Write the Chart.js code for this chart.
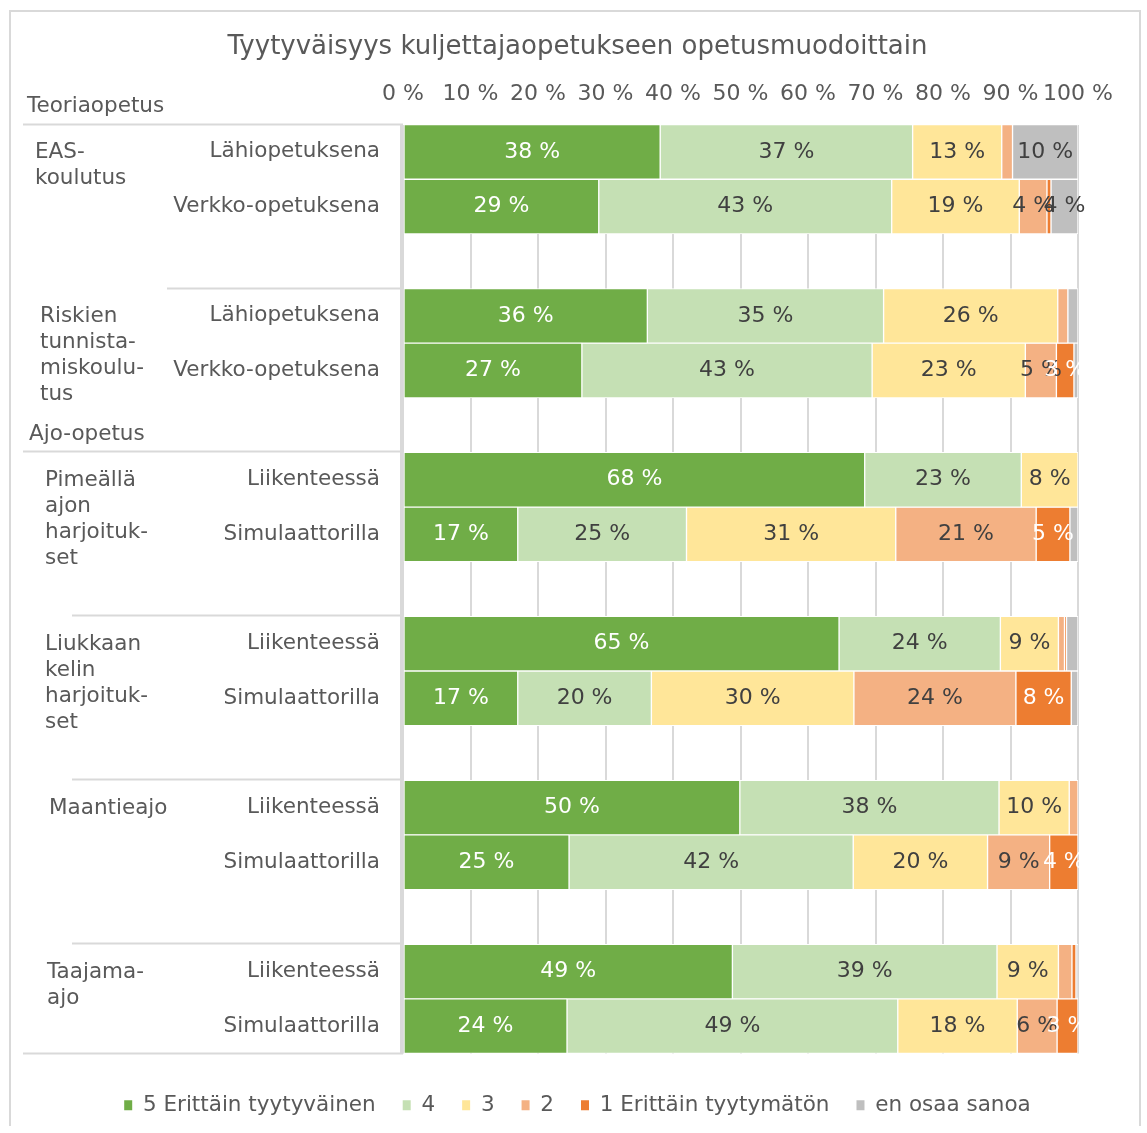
<!DOCTYPE html>
<html lang="fi">
<head>
<meta charset="utf-8">
<title>Tyytyväisyys kuljettajaopetukseen opetusmuodoittain</title>
<script src="https://cdn.jsdelivr.net/npm/chart.js@4.4.0/dist/chart.umd.min.js"></script>
<style>
  html, body { margin: 0; padding: 0; background: #fff; overflow: hidden; }
  #wrap { position: relative; width: 1147px; height: 1126px; }
</style>
</head>
<body>
<div id="wrap"><canvas id="satisfactionChart"></canvas></div>
<script>
// rows of the chart, top to bottom; empty strings are spacer rows between groups
const rowLabels = [
  "Lähiopetuksena", "Verkko-opetuksena", "",
  "Lähiopetuksena", "Verkko-opetuksena", "",
  "Liikenteessä", "Simulaattorilla", "",
  "Liikenteessä", "Simulaattorilla", "",
  "Liikenteessä", "Simulaattorilla", "",
  "Liikenteessä", "Simulaattorilla"
];

const groupNames = [
  ["EAS-", "koulutus"],
  ["Riskien", "tunnista-", "miskoulu-", "tus"],
  ["Pimeällä", "ajon", "harjoituk-", "set"],
  ["Liukkaan", "kelin", "harjoituk-", "set"],
  ["Maantieajo"],
  ["Taajama-", "ajo"]
];
const groupFirstRow = [0, 3, 6, 9, 12, 15];

const sectionNames = ["Teoriaopetus", "Ajo-opetus"];
const sectionFirstRow = [0, 6];

const answerLabels = ["5 Erittäin tyytyväinen", "4", "3", "2", "1 Erittäin tyytymätön", "en osaa sanoa"];

// shares in percent
const grade5 = [38.1, 29.0, null, 36.2, 26.5, null, 68.4, 17.0, null, 64.6, 17.0, null, 49.9, 24.6, null, 48.8, 24.3];
const grade4 = [37.4, 43.4, null, 35.0, 43.0, null, 23.2, 25.0, null, 23.9, 19.8, null, 38.4, 42.1, null, 39.2, 49.0];
const grade3 = [13.2, 18.9, null, 25.8, 22.7, null, 8.4, 31.0, null, 8.6, 30.0, null, 10.4, 19.9, null, 9.1, 17.7];
const grade2 = [1.6, 4.1, null, 1.5, 4.6, null, 0, 20.8, null, 0.9, 24.0, null, 1.3, 9.2, null, 2.0, 5.9];
const grade1 = [0, 0.6, null, 0, 2.6, null, 0, 5.0, null, 0.3, 8.2, null, 0, 4.2, null, 0.6, 3.1];
const noAnswer = [9.7, 4.0, null, 1.5, 0.6, null, 0, 1.2, null, 1.7, 1.0, null, 0, 0, null, 0.3, 0];

const xTicks = [0, 10, 20, 30, 40, 50, 60, 70, 80, 90, 100];

const colors = ["#70AD47", "#C5E0B4", "#FFE699", "#F4B183", "#ED7D31", "#BFBFBF"];
const labelColors = ["#ffffff", "#404040", "#404040", "#404040", "#ffffff", "#404040"];
const FONT = '"DejaVu Sans", Verdana, sans-serif';
const TEXT = "#595959";
const LINE = "#d9d9d9";

const series = [grade5, grade4, grade3, grade2, grade1, noAnswer];

const datasets = series.map((values, i) => ({
  label: answerLabels[i],
  data: values,
  backgroundColor: colors[i],
  borderColor: "#ffffff",
  borderWidth: 1,
  borderSkipped: false,
  categoryPercentage: 1,
  barPercentage: 1
}));

// percentage labels inside the segments
const segmentLabels = {
  id: "segmentLabels",
  afterDatasetsDraw(chart) {
    const ctx = chart.ctx;
    ctx.save();
    ctx.font = "22px " + FONT;
    ctx.textAlign = "center";
    ctx.textBaseline = "middle";
    chart.data.datasets.forEach((ds, di) => {
      const meta = chart.getDatasetMeta(di);
      meta.data.forEach((el, i) => {
        const v = ds.data[i];
        if (v == null || Math.round(v) < 3) return;
        const p = el.getCenterPoint();
        ctx.fillStyle = labelColors[di];
        ctx.fillText(Math.round(v) + " %", p.x, p.y);
      });
    });
    ctx.restore();
  }
};

// multi-level category axis on the left, dividers and the outer frame
const categoryBlock = {
  id: "categoryBlock",
  afterDraw(chart) {
    const ctx = chart.ctx;
    const y = chart.scales.y;
    const step = (y.bottom - y.top) / rowLabels.length;
    const rowTop = r => y.top + step * r;
    const rowMid = r => y.top + step * (r + 0.5);
    const right = chart.chartArea.left;

    ctx.save();
    ctx.strokeStyle = LINE;
    ctx.lineWidth = 2;
    ctx.strokeRect(10, 11, 1130, 1200);

    // horizontal separators between groups
    const dividers = [[0, 23], [3, 167], [6, 23], [9, 72], [12, 72], [15, 72], [17, 23]];
    dividers.forEach(([r, x0]) => {
      const yy = Math.round(rowTop(r)) - 0.5;
      ctx.beginPath();
      ctx.moveTo(x0, yy);
      ctx.lineTo(right, yy);
      ctx.stroke();
    });
    ctx.beginPath();
    ctx.moveTo(right - 2, rowTop(0));
    ctx.lineTo(right - 2, rowTop(17));
    ctx.stroke();

    ctx.fillStyle = TEXT;
    ctx.font = "21.5px " + FONT;
    ctx.textBaseline = "middle";

    ctx.textAlign = "right";
    rowLabels.forEach((t, r) => {
      if (t) ctx.fillText(t, 380, rowMid(r));
    });

    ctx.textAlign = "left";
    const groupX = [35, 40, 45, 45, 49, 47];
    groupNames.forEach((lines, g) => {
      lines.forEach((t, k) => {
        ctx.fillText(t, groupX[g], rowMid(groupFirstRow[g]) + 1 + k * 26);
      });
    });

    const sectionX = [27, 29];
    sectionNames.forEach((t, s) => {
      ctx.fillText(t, sectionX[s], rowTop(sectionFirstRow[s]) - 18);
    });
    ctx.restore();
  }
};

new Chart(document.getElementById("satisfactionChart"), {
  type: "bar",
  data: { labels: rowLabels, datasets },
  options: {
    indexAxis: "y",
    responsive: true,
    maintainAspectRatio: false,
    animation: false,
    layout: { padding: { left: 8 } },
    scales: {
      x: {
        position: "top",
        stacked: true,
        min: 0,
        max: 100,
        afterBuildTicks: s => { s.ticks = xTicks.map(v => ({ value: v })); },
        ticks: {
          autoSkip: false,
          maxRotation: 0,
          padding: 17,
          color: TEXT,
          font: { family: FONT, size: 22 },
          callback: v => v + " %"
        },
        grid: { color: LINE, lineWidth: 2, drawTicks: false },
        border: { display: false }
      },
      x2: {
        position: "bottom",
        display: true,
        ticks: { display: false },
        grid: { display: false },
        border: { display: false },
        afterFit: s => { s.height = 14; }
      },
      y: {
        stacked: true,
        ticks: { display: false },
        grid: { display: false },
        border: { display: false },
        afterFit: s => { s.width = 395; }
      },
      y2: {
        type: "category",
        position: "right",
        ticks: { display: false },
        grid: { display: false },
        border: { display: false },
        afterFit: s => { s.width = 69; }
      }
    },
    plugins: {
      title: {
        display: true,
        text: "Tyytyväisyys kuljettajaopetukseen opetusmuodoittain",
        color: TEXT,
        font: { family: FONT, size: 26, weight: "normal" },
        padding: { top: 32, bottom: 1 }
      },
      legend: {
        position: "bottom",
        labels: {
          boxWidth: 8,
          boxHeight: 10,
          padding: 27,
          color: TEXT,
          font: { family: FONT, size: 21.5 },
          generateLabels: chart =>
            Chart.defaults.plugins.legend.labels.generateLabels(chart).map(l => ({ ...l, lineWidth: 0 }))
        }
      },
      tooltip: { enabled: false }
    }
  },
  plugins: [segmentLabels, categoryBlock]
});
</script>
</body>
</html>
